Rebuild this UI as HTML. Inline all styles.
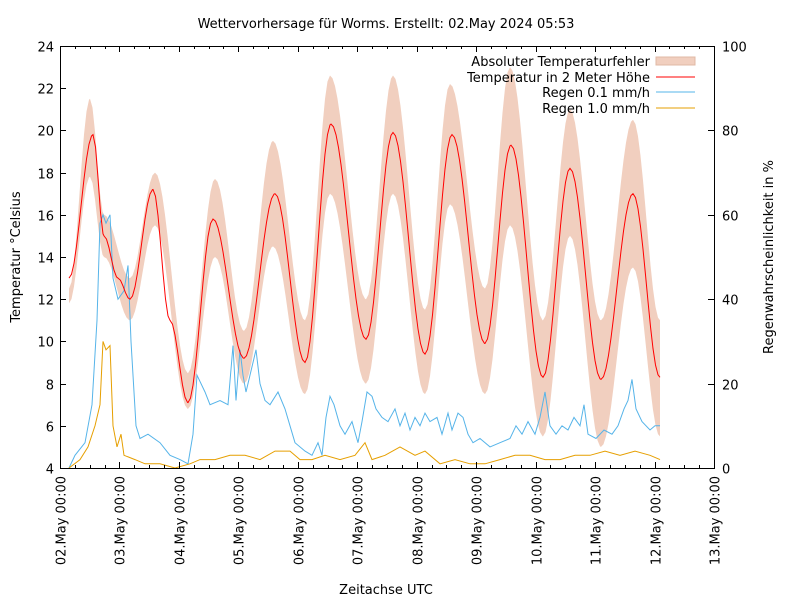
<!DOCTYPE html>
<html><head><meta charset="utf-8"><style>
body{margin:0;background:#fff}
svg{display:block;font-family:"DejaVu Sans","Liberation Sans",sans-serif}
</style></head><body>
<svg id="s" width="800" height="600" viewBox="0 0 800 600" xmlns="http://www.w3.org/2000/svg">
<rect width="800" height="600" fill="#fff"/>
<path id="band" fill="#f1cfbf" stroke="none"/>
<path id="rb" fill="none" stroke="#56b4e9" stroke-width="1"/>
<path id="ro" fill="none" stroke="#e69f00" stroke-width="1"/>
<path id="red" fill="none" stroke="#ff0000" stroke-width="1"/>
<rect x="60.5" y="46.5" width="654" height="422" fill="none" stroke="#000"/>
<g id="ticks" stroke="#000" stroke-width="1"></g>
<g id="lbl" font-size="13" fill="#000"></g>
<text x="386" y="28" font-size="13" text-anchor="middle">Wettervorhersage für Worms. Erstellt: 02.May 2024 05:53</text>
<text x="386" y="594" font-size="13" text-anchor="middle">Zeitachse UTC</text>
<text transform="translate(20,257) rotate(-90)" font-size="13" text-anchor="middle">Temperatur °Celsius</text>
<text transform="translate(773,257) rotate(-90)" font-size="13" text-anchor="middle">Regenwahrscheinlichkeit in %</text>
<g font-size="13" text-anchor="end">
<text x="650" y="66">Absoluter Temperaturfehler</text>
<text x="650" y="82">Temperatur in 2 Meter Höhe</text>
<text x="650" y="97">Regen 0.1 mm/h</text>
<text x="650" y="113">Regen 1.0 mm/h</text>
</g>
<rect x="656" y="57" width="39" height="8" fill="#f1cfbf" stroke="#e0b8a5"/>
<line x1="656" y1="77" x2="695" y2="77" stroke="#f00"/>
<line x1="656" y1="92" x2="695" y2="92" stroke="#56b4e9"/>
<line x1="656" y1="108" x2="695" y2="108" stroke="#e69f00"/>
</svg>
<script>
const NS="http://www.w3.org/2000/svg";
const ty=t=>468-(t-4)*21.1, py=p=>468-p*4.22;
function interp(k){const out=[];for(let i=0;i<k.length-1;i++){const[a,va]=k[i],[b,vb]=k[i+1];for(let x=a;x<b;x+=2.5){const f=(1-Math.cos(Math.PI*(x-a)/(b-a)))/2;out.push([x,va+(vb-va)*f]);}}out.push(k[k.length-1]);return out;}
const T=[[69,13],[93,19.8],[104,15],[118,13],[130,12],[153,17.2],[170,11],[188,7.1],[213,15.8],[244,9.2],[275,17],[305,9],[331,20.3],[366,10.1],[393,19.9],[425,9.4],[452,19.8],[485,9.9],[511,19.3],[543,8.3],[570,18.2],[601,8.2],[633,17],[660,8.3]];
const U=[[69,12.5],[90,21.5],[104,16],[130,13],[155,18],[188,8.5],[215,17.7],[244,10.5],[273,19.5],[305,11],[330,22.6],[366,12],[393,22.6],[425,11.5],[450,22.2],[485,12.5],[510,23],[543,11],[570,21],[601,11],[633,20.5],[660,11]];
const L=[[69,11.8],[90,17.8],[104,14],[130,11],[155,15.5],[188,6.8],[215,14],[244,8],[273,14.5],[305,7.5],[330,17],[366,8],[393,17],[425,7.5],[450,16.5],[485,7.5],[510,15.5],[543,5.5],[570,15],[601,5],[633,13.5],[660,5.5]];
const tp=interp(T),up=interp(U),lp=interp(L);
document.getElementById('red').setAttribute('d','M'+tp.map(p=>p[0]+','+ty(p[1]).toFixed(1)).join('L'));
document.getElementById('band').setAttribute('d','M'+up.map(p=>p[0]+','+ty(p[1]).toFixed(1)).join('L')+'L'+lp.reverse().map(p=>p[0]+','+ty(p[1]).toFixed(1)).join('L')+'Z');
const B=[[69,0],[75,3],[85,6],[92,15],[97,35],[100,58],[103,60],[106,58],[110,60],[113,45],[118,40],[124,42],[128,48],[131,30],[136,10],[140,7],[148,8],[160,6],[170,3],[180,2],[188,1],[193,8],[197,22],[205,18],[210,15],[220,16],[228,15],[233,29],[236,16],[240,28],[243,22],[246,18],[252,24],[256,28],[260,20],[265,16],[270,15],[278,18],[285,14],[290,10],[295,6],[305,4],[312,3],[318,6],[322,3],[326,12],[330,17],[334,15],[340,10],[345,8],[352,11],[358,6],[362,11],[367,18],[372,17],[376,14],[382,12],[388,11],[395,14],[400,10],[405,13],[410,9],[415,12],[420,10],[425,13],[430,11],[437,12],[442,8],[448,13],[452,9],[458,13],[463,12],[468,8],[473,6],[480,7],[490,5],[500,6],[510,7],[516,10],[522,8],[528,11],[535,8],[540,12],[545,18],[550,10],[556,8],[562,10],[568,9],[574,12],[580,10],[584,15],[588,8],[596,7],[604,9],[612,8],[618,10],[624,14],[628,16],[632,21],[636,14],[642,11],[650,9],[655,10],[660,10]];
const O=[[69,0],[80,2],[88,5],[95,10],[100,15],[103,30],[106,28],[110,29],[113,10],[117,5],[121,8],[124,3],[135,2],[145,1],[160,1],[175,0],[190,1],[200,2],[215,2],[230,3],[245,3],[260,2],[275,4],[290,4],[300,2],[312,2],[325,3],[340,2],[355,3],[365,6],[372,2],[385,3],[400,5],[415,3],[425,4],[440,1],[455,2],[470,1],[485,1],[500,2],[515,3],[530,3],[545,2],[560,2],[575,3],[590,3],[605,4],[620,3],[635,4],[650,3],[660,2]];
document.getElementById('rb').setAttribute('d','M'+B.map(p=>p[0]+','+py(p[1]).toFixed(1)).join('L'));
document.getElementById('ro').setAttribute('d','M'+O.map(p=>p[0]+','+py(p[1]).toFixed(1)).join('L'));
const tk=document.getElementById('ticks'),lb=document.getElementById('lbl');
function line(x1,y1,x2,y2){const l=document.createElementNS(NS,'line');l.setAttribute('x1',x1);l.setAttribute('y1',y1);l.setAttribute('x2',x2);l.setAttribute('y2',y2);tk.appendChild(l);}
function txt(x,y,s,a,tr){const t=document.createElementNS(NS,'text');t.setAttribute('x',x);t.setAttribute('y',y);t.setAttribute('text-anchor',a);if(tr)t.setAttribute('transform',tr);t.textContent=s;lb.appendChild(t);}
for(let v=4;v<=24;v+=2){const y=Math.round(ty(v))+0.5;line(60,y,66,y);txt(54,y+5,v,'end');}
for(let p=0;p<=100;p+=20){const y=Math.round(py(p))+0.5;line(708,y,714,y);txt(722,y+5,p,'start');}
for(let d=0;d<=11;d++){const x=Math.round(60+d*59.45)+0.5;line(x,468,x,462);line(x,46,x,52);const s=String(d+2).padStart(2,'0')+'.May 00:00';txt(x+5,476,s,'end','rotate(-90 '+(x+5)+' 476)');}
for(let d=0;d<11;d++)for(let h=1;h<4;h++){const x=Math.round(60+(d+h/4)*59.45)+0.5;line(x,468,x,465);line(x,46,x,49);}
</script>
</body></html>
